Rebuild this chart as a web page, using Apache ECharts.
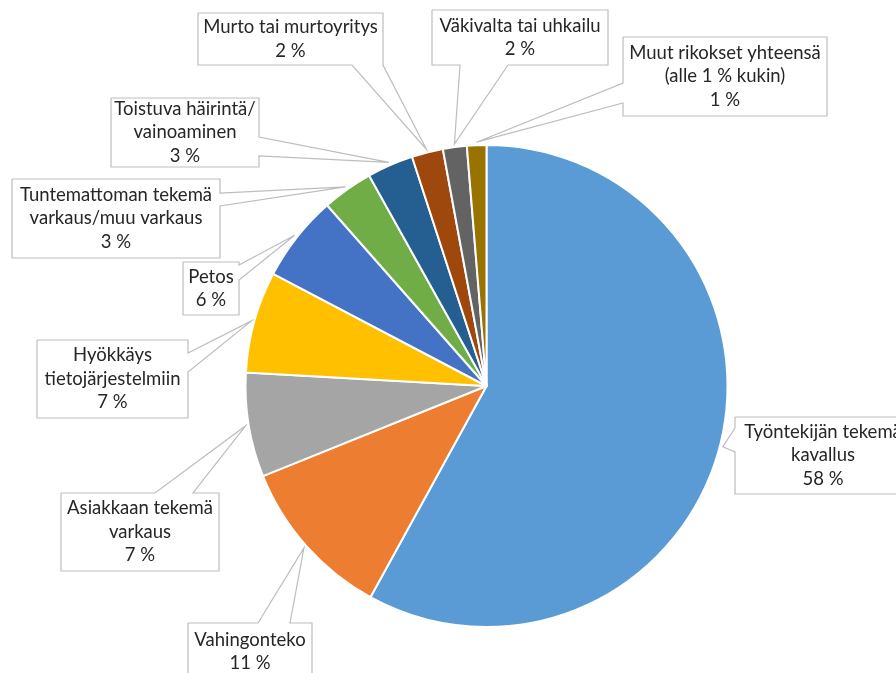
<!DOCTYPE html>
<html lang="fi">
<head>
  <meta charset="UTF-8">
  <title>Rikokset</title>
  <style>
    html, body { margin: 0; padding: 0; background: #fff; }
    #chart { width: 896px; height: 673px; }
  </style>
</head>
<body>
  <div id="chart"></div>
  <script src="https://cdn.jsdelivr.net/npm/echarts@6.0.0/dist/echarts.min.js"></script>
  <script>
    // slices, clockwise from 12 o'clock
    const categories = [
      'Työntekijän tekemä\nkavallus',
      'Vahingonteko',
      'Asiakkaan tekemä\nvarkaus',
      'Hyökkäys\ntietojärjestelmiin',
      'Petos',
      'Tuntemattoman tekemä\nvarkaus/muu varkaus',
      'Toistuva häirintä/\nvainoaminen',
      'Murto tai murtoyritys',
      'Väkivalta tai uhkailu',
      'Muut rikokset yhteensä\n(alle 1 % kukin)'
    ]
    const shares = [58.0, 10.9, 7.0, 6.8, 5.8, 3.4, 3.1, 2.1, 1.6, 1.3]
    const colors = ['#5B9BD5', '#ED7D31', '#A5A5A5', '#FFC000', '#4472C4',
      '#70AD47', '#255E91', '#9E480E', '#636363', '#997300']

    // callout boxes: [left, top, right, bottom], side with the pointer, pointer base
    const callouts = [
      { box: [735, 417, 911, 494], side: 'L', base: [428, 452] },
      { box: [188, 623, 312, 680], side: 'T', base: [258, 290] },
      { box: [61, 493, 219, 571], side: 'T', base: [155, 193] },
      { box: [37, 340, 188, 418], side: 'R', base: [353, 372] },
      { box: [183, 262, 239, 315], side: 'R', base: [265, 280] },
      { box: [12, 179, 220, 258], side: 'R', base: [193, 206] },
      { box: [111, 98, 259, 167], side: 'R', base: [137, 156] },
      { box: [198, 13, 383, 65], side: 'B', base: [352, 383] },
      { box: [432, 10, 608, 65], side: 'B', base: [460, 508] },
      { box: [623, 37, 827, 116], side: 'L', base: [83, 103] }
    ]

    const pieCenter = [486.5, 386]
    const pieRadius = 241

    function calloutPoints(c, tip) {
      const [x0, y0, x1, y1] = c.box
      const [a, b] = c.base
      if (c.side === 'L') return [[x0, y0], [x1, y0], [x1, y1], [x0, y1], [x0, b], tip, [x0, a], [x0, y0]]
      if (c.side === 'R') return [[x0, y0], [x1, y0], [x1, a], tip, [x1, b], [x1, y1], [x0, y1], [x0, y0]]
      if (c.side === 'T') return [[x0, y0], [a, y0], tip, [b, y0], [x1, y0], [x1, y1], [x0, y1], [x0, y0]]
      return [[x0, y0], [x1, y0], [x1, y1], [b, y1], tip, [a, y1], [x0, y1], [x0, y0]]
    }

    const chart = echarts.init(document.getElementById('chart'))
    chart.setOption({
      backgroundColor: '#fff',
      animation: false,
      series: [{
        type: 'pie',
        center: pieCenter,
        radius: pieRadius,
        startAngle: 90,
        clockwise: true,
        avoidLabelOverlap: false,
        data: categories.map((name, i) => ({ name: name, value: shares[i] })),
        color: colors,
        itemStyle: { borderColor: '#fff', borderWidth: 2 },
        emphasis: { disabled: true },
        label: {
          show: true,
          position: 'outside',
          overflow: 'none',
          formatter: p => p.name + '\n' + Math.round(p.value) + ' %',
          fontFamily: 'Lato',
          fontSize: 18.5,
          lineHeight: 23.5,
          color: '#262626',
          align: 'center'
        },
        labelLine: {
          show: true,
          lineStyle: { color: '#bdbdbd', width: 1.2 }
        },
        labelLayout: function (params) {
          const c = callouts[params.dataIndex]
          const p = params.labelLinePoints[0]
          const dx = p[0] - pieCenter[0], dy = p[1] - pieCenter[1]
          const d = Math.sqrt(dx * dx + dy * dy) || 1
          const tip = [p[0] + dx / d * 3, p[1] + dy / d * 3]
          return {
            x: (c.box[0] + c.box[2]) / 2,
            y: (c.box[1] + c.box[3]) / 2,
            align: 'center',
            verticalAlign: 'middle',
            labelLinePoints: calloutPoints(c, tip)
          }
        }
      }]
    })
  </script>
</body>
</html>
